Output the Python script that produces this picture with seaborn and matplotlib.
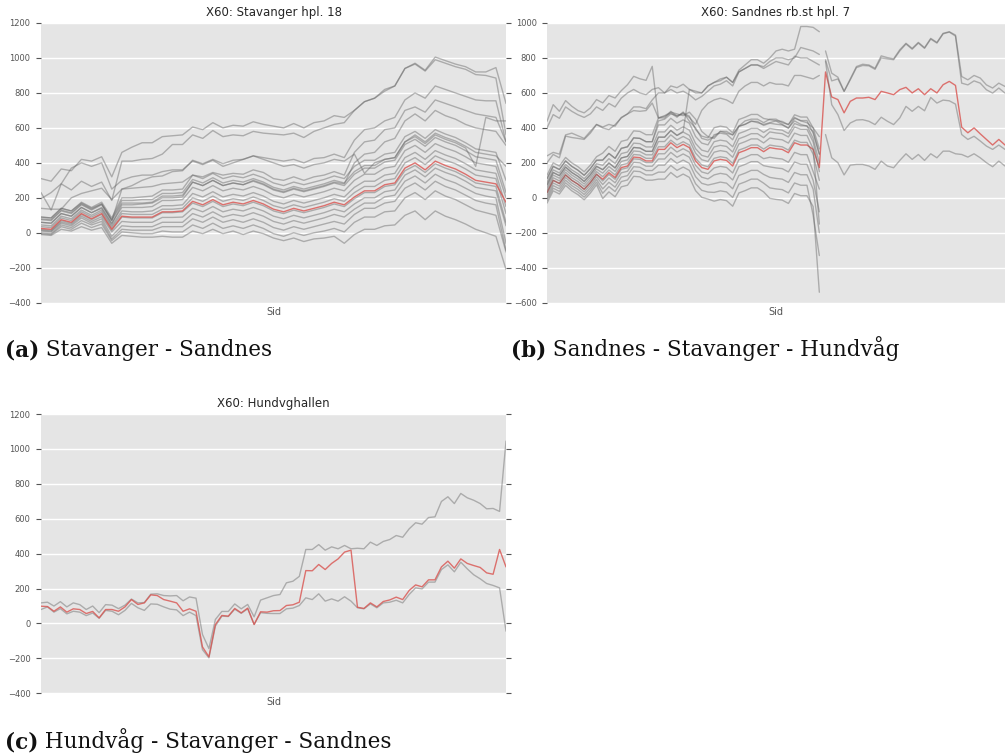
import matplotlib
matplotlib.use('Agg')
import matplotlib.pyplot as plt
import seaborn as sns

# ---------- (a) X60: Stavanger hpl. 18  (47 stops) ----------
a_red = [25, 20, 75, 60, 110, 80, 110, 20, 95, 90, 90, 90, 120, 120, 125,
         180, 160, 190, 160, 175, 165, 185, 165, 135, 120, 140, 125, 140, 155, 175, 160,
         205, 240, 240, 275, 285, 370, 400, 360, 410, 385, 365, 335, 300, 290, 280, 175]
a_run01 = [-10, -15, 20, 10, 35, 15, 30, -60, -15, -20, -25, -25, -20, -25, -25,
           10, -5, 20, -5, 10, -10, 10, -5, -30, -45, -30, -50, -35, -30, -20, -60,
           -10, 20, 20, 40, 45, 100, 125, 75, 125, 95, 75, 50, 20, 0, -20, -210]
a_run02 = [-5, -10, 35, 20, 55, 30, 50, -45, 5, 0, -5, -5, 10, 5, 5,
           45, 25, 55, 25, 40, 25, 45, 25, -5, -20, 0, -15, 0, 10, 25, 5,
           60, 90, 90, 120, 125, 200, 230, 190, 240, 210, 190, 160, 130, 115, 100, -110]
a_run03 = [0, -5, 45, 30, 70, 45, 65, -35, 20, 15, 15, 15, 35, 35, 35,
           80, 60, 90, 60, 75, 60, 80, 60, 30, 15, 35, 20, 35, 50, 65, 50,
           105, 140, 140, 170, 180, 255, 285, 245, 295, 265, 245, 215, 185, 170, 160, -100]
a_run04 = [10, 5, 55, 40, 85, 55, 80, -20, 40, 35, 35, 35, 60, 60, 60,
           110, 90, 120, 90, 105, 95, 115, 95, 65, 50, 70, 55, 70, 85, 105, 90,
           135, 170, 170, 205, 215, 295, 325, 285, 335, 305, 285, 255, 225, 210, 200, -60]
a_run05 = [15, 10, 62, 48, 95, 65, 92, 5, 65, 60, 60, 60, 88, 88, 90,
           140, 120, 150, 120, 135, 125, 145, 125, 95, 80, 100, 85, 100, 115, 135, 120,
           165, 200, 200, 235, 245, 330, 360, 320, 370, 345, 325, 295, 260, 250, 240, 40]
a_run06 = [35, 30, 85, 70, 120, 90, 120, 30, 110, 105, 105, 105, 135, 135, 140,
           200, 180, 210, 180, 195, 185, 205, 185, 155, 140, 160, 145, 160, 175, 195, 180,
           230, 265, 265, 300, 310, 400, 430, 390, 440, 415, 395, 365, 330, 320, 310, 110]
a_run07 = [45, 40, 95, 80, 130, 100, 130, 40, 125, 120, 120, 125, 155, 155, 160,
           225, 205, 235, 205, 220, 210, 230, 210, 180, 165, 185, 170, 185, 200, 220, 205,
           260, 295, 295, 330, 340, 430, 460, 420, 470, 445, 425, 395, 360, 350, 340, 150]
a_run08 = [60, 55, 110, 95, 145, 115, 145, 55, 145, 145, 145, 150, 185, 185, 190,
           260, 240, 270, 240, 255, 245, 265, 245, 215, 200, 220, 205, 220, 235, 255, 240,
           300, 335, 335, 370, 380, 470, 500, 460, 510, 485, 465, 435, 400, 390, 380, 200]
a_run09 = [75, 70, 125, 110, 160, 130, 160, 70, 170, 170, 170, 175, 210, 210, 215,
           290, 270, 300, 270, 285, 275, 295, 275, 245, 230, 250, 235, 250, 265, 285, 270,
           335, 370, 370, 405, 415, 505, 535, 495, 545, 520, 500, 470, 435, 425, 415, 230]
a_run10 = [90, 85, 140, 125, 175, 145, 175, 85, 200, 200, 205, 210, 245, 245, 250,
           330, 310, 340, 310, 325, 315, 335, 315, 285, 270, 290, 275, 290, 305, 325, 310,
           380, 415, 415, 450, 460, 550, 580, 540, 590, 565, 545, 515, 480, 470, 460, 300]
a_run11 = [80, 75, 130, 115, 165, 135, 165, 75, 185, 185, 190, 190, 225, 225, 230,
           305, 285, 315, 285, 300, 290, 310, 290, 260, 245, 265, 250, 265, 280, 300, 285,
           350, 385, 385, 420, 430, 520, 550, 510, 560, 535, 515, 485, 380, 660, 640, 640]
a_run12 = [20, 15, 70, 55, 105, 75, 105, 15, 90, 85, 85, 85, 115, 115, 120,
           170, 150, 180, 150, 165, 155, 175, 155, 125, 110, 130, 115, 130, 145, 165, 150,
           195, 230, 230, 265, 275, 355, 385, 345, 395, 370, 350, 320, 285, 275, 265, 60]
a_run13 = [310, 295, 365, 355, 420, 410, 435, 320, 460, 490, 515, 515, 550, 555, 560,
           605, 590, 630, 600, 615, 610, 635, 620, 610, 600, 625, 600, 630, 640, 670, 660,
           700, 750, 770, 820, 840, 940, 970, 930, 1005, 985, 965, 950, 920, 920, 945, 740]
a_run14 = [195, 230, 280, 245, 295, 265, 290, 185, 410, 410, 420, 425, 450, 505, 505,
           560, 540, 585, 550, 560, 555, 580, 570, 565, 560, 570, 545, 580, 600, 620, 630,
           700, 750, 770, 810, 840, 940, 965, 925, 990, 970, 950, 935, 905, 900, 885, 560]
a_run15 = [140, 135, 135, 200, 225, 240, 255, 190, 250, 270, 300, 320, 325, 350, 355,
           415, 395, 420, 395, 415, 420, 440, 430, 420, 410, 420, 400, 425, 430, 450, 430,
           530, 590, 600, 640, 660, 760, 800, 770, 840, 820, 800, 780, 760, 755, 755, 520]
a_run16 = [90, 85, 140, 125, 170, 140, 165, 70, 250, 255, 260, 265, 280, 285, 290,
           330, 320, 345, 330, 340, 335, 360, 345, 310, 300, 320, 300, 320, 330, 350, 330,
           460, 520, 530, 590, 600, 700, 720, 690, 760, 740, 720, 700, 680, 670, 660, 520]
a_run17 = [60, 55, 110, 95, 145, 115, 140, 50, 160, 160, 165, 170, 200, 200, 205,
           290, 270, 300, 270, 285, 275, 300, 280, 250, 235, 255, 240, 255, 270, 290, 280,
           400, 450, 460, 520, 540, 640, 680, 640, 700, 670, 650, 620, 600, 590, 580, 500]
a_run18 = [230, 130, 280, 370, 400, 380, 400, 250, 300, 320, 330, 330, 350, 360, 360,
           410, 390, 415, 380, 400, 420, 440, 420, 400, 380, 390, 370, 390, 400, 420, 410,
           450, 340, 400, 420, 430, 520, 560, 520, 570, 545, 525, 495, 460, 450, 440, 380]
a_runs = [a_run01, a_run02, a_run03, a_run04, a_run05, a_run06, a_run07, a_run08, a_run09,
          a_run10, a_run11, a_run12, a_run13, a_run14, a_run15, a_run16, a_run17, a_run18]

# ---------- (b) X60: Sandnes rb.st hpl. 7  (75 stops; runs split at stop 45) ----------
b_red = [30, 100, 82, 131, 100, 78, 49, 87, 135, 106, 144, 116, 173, 182, 233,
         230, 211, 211, 277, 277, 315, 287, 306, 287, 211, 173, 163, 211, 220, 214,
         182, 258, 271, 287, 287, 264, 287, 281, 277, 258, 315, 302, 302, 277, 173,
         720, 577, 562, 486, 552, 571, 571, 575, 562, 609, 600, 590, 619, 632, 600,
         624, 590, 624, 600, 647, 666, 643, 404, 372, 400, 366, 334, 302, 334, 302]
b_run01 = [-30, 40, 22, 71, 40, 18, -11, 27, 75, -4, 34, 6, 63, 72, 123, 120, 101, 101,
           107, 107, 145, 117, 136, 117, 41, 3, -7, -19, -10, -16, -48, 28, 41, 57, 57, 34,
           -3, -9, -13, -32, 25, 12, 12, -50, -540]
b_run02 = [-15, 55, 37, 86, 55, 33, 4, 42, 90, 26, 64, 36, 93, 102, 153, 150, 131, 131,
           147, 147, 185, 157, 176, 157, 81, 43, 33, 31, 40, 34, 2, 78, 91, 107, 107, 84,
           57, 51, 47, 28, 85, 72, 72, -100, -330]
b_run03 = [0, 70, 52, 101, 70, 48, 19, 57, 105, 51, 89, 61, 118, 127, 178, 175, 156, 156,
           187, 187, 225, 197, 216, 197, 121, 83, 73, 81, 90, 84, 52, 128, 141, 157, 157, 134,
           117, 111, 107, 88, 145, 132, 132, 50, -200]
b_run04 = [15, 85, 67, 116, 85, 63, 34, 72, 120, 76, 114, 86, 143, 152, 203, 200, 181, 181,
           222, 222, 260, 232, 251, 232, 156, 118, 108, 131, 140, 134, 102, 178, 191, 207, 207, 184,
           177, 171, 167, 148, 205, 192, 192, 100, -80]
b_run05 = [30, 100, 82, 131, 100, 78, 49, 87, 135, 96, 134, 106, 163, 172, 223, 220, 201, 201,
           252, 252, 290, 262, 281, 262, 186, 148, 138, 171, 180, 174, 142, 218, 231, 247, 247, 224,
           232, 226, 222, 203, 260, 247, 247, 150, 50]
b_run06 = [45, 115, 97, 146, 115, 93, 64, 102, 150, 121, 159, 131, 188, 197, 248, 245, 226, 226,
           292, 292, 330, 302, 321, 302, 226, 188, 178, 226, 235, 229, 197, 273, 286, 302, 302, 279,
           302, 296, 292, 273, 330, 317, 317, 250, 100]
b_run07 = [60, 130, 112, 161, 130, 108, 79, 117, 165, 141, 179, 151, 208, 217, 268, 265, 246, 246,
           322, 322, 360, 332, 351, 332, 256, 218, 208, 261, 270, 264, 232, 308, 321, 337, 337, 314,
           342, 336, 332, 313, 370, 357, 357, 280, -150]
b_run08 = [75, 145, 127, 176, 145, 123, 94, 132, 180, 161, 199, 171, 228, 237, 288, 285, 266, 266,
           347, 347, 385, 357, 376, 357, 281, 243, 233, 291, 300, 294, 262, 338, 351, 367, 367, 344,
           377, 371, 367, 348, 405, 392, 392, 320, 150]
b_run09 = [90, 160, 142, 191, 160, 138, 109, 147, 195, 186, 224, 196, 253, 262, 313, 310, 291, 291,
           377, 377, 415, 387, 406, 387, 311, 273, 263, 321, 330, 324, 292, 368, 381, 397, 397, 374,
           397, 391, 387, 368, 425, 412, 412, 340, 200]
b_run10 = [110, 180, 162, 211, 180, 158, 129, 167, 215, 216, 254, 226, 283, 292, 343, 340, 321, 321,
           417, 417, 455, 427, 446, 427, 351, 313, 303, 361, 370, 364, 332, 408, 421, 437, 437, 414,
           427, 421, 417, 398, 455, 442, 442, 370, 250]
b_run11 = [130, 200, 182, 231, 200, 178, 149, 187, 235, 256, 294, 266, 323, 332, 383, 380, 361, 361,
           457, 457, 495, 467, 486, 467, 391, 353, 343, 401, 410, 404, 372, 448, 461, 477, 477, 454,
           447, 441, 437, 418, 475, 462, 462, 400, 280]
b_run12 = [438, 533, 495, 556, 524, 499, 486, 514, 562, 543, 585, 571, 613, 647, 695,
           681, 672, 752, 457, 470, 490, 480, 470, 490, 450, 380, 350, 340, 380, 370,
           360, 410, 420, 440, 430, 420, 430, 440, 420, 400, 440, 420, 410, 380, 250]
b_run13 = [400, 476, 455, 520, 495, 475, 460, 480, 520, 500, 540, 520, 570, 600, 620,
           600, 590, 620, 630, 600, 640, 630, 650, 620, 600, 600, 640, 660, 680, 690,
           660, 730, 760, 790, 790, 770, 800, 840, 850, 840, 850, 980, 980, 975, 950]
b_run14 = [201, 248, 229, 353, 345, 340, 334, 370, 419, 400, 390, 419, 457, 480, 499,
           495, 499, 542, 457, 466, 485, 461, 491, 438, 400, 340, 330, 350, 380, 380,
           360, 410, 440, 450, 450, 430, 450, 450, 430, 420, 460, 440, 430, 400, 350]
b_run15 = [75, 145, 127, 176, 145, 123, 94, 132, 180, 161, 199, 171, 228, 237, 288, 285, 266, 266,
           347, 347, 385, 357, 380, 620, 610, 600, 640, 660, 670, 690, 660, 720, 740, 760, 760,
           740, 760, 780, 770, 760, 810, 800, 800, 780, 760]
b_run16 = [110, 180, 162, 211, 180, 158, 129, 167, 215, 216, 254, 226, 283, 292, 343, 340, 321, 321,
           440, 450, 480, 470, 480, 460, 420, 500, 540, 560, 570, 560, 540, 610, 640, 660, 660,
           640, 660, 650, 650, 640, 700, 700, 690, 680, 700]
b_run17 = [240, 260, 250, 360, 370, 355, 340, 380, 420, 405, 420, 410, 460, 480, 520,
           520, 510, 560, 600, 600, 620, 600, 610, 590, 560, 580, 610, 640, 650, 670,
           640, 720, 740, 760, 760, 750, 780, 800, 800, 790, 800, 860, 850, 840, 820]
b_runs_left = [b_run01, b_run02, b_run03, b_run04, b_run05, b_run06, b_run07, b_run08,
               b_run09, b_run10, b_run11, b_run12, b_run13, b_run14, b_run15, b_run16, b_run17]

b_late1 = [840, 713, 690, 609, 680, 751, 764, 760, 741, 812, 802, 795, 847, 884, 855,
           889, 859, 912, 889, 941, 950, 931, 694, 675, 700, 685, 646, 628, 656, 637]
b_late2 = [789, 669, 680, 609, 675, 745, 757, 755, 735, 800, 795, 790, 840, 880, 850,
           885, 855, 908, 885, 938, 948, 925, 656, 646, 669, 656, 618, 599, 628, 599]
b_late3 = [780, 533, 476, 385, 428, 445, 447, 438, 419, 461, 438, 419, 457, 523, 495,
           523, 498, 574, 542, 559, 555, 536, 362, 334, 352, 325, 296, 277, 302, 277]
b_late4 = [362, 229, 201, 131, 187, 191, 191, 182, 163, 210, 182, 172, 214, 252, 220,
           248, 214, 252, 229, 267, 267, 252, 248, 233, 252, 229, 201, 178, 210, 182]
b_runs_right = [b_late1, b_late2, b_late3, b_late4]

# ---------- (c) X60: Hundvghallen  (73 stops) ----------
c_red = [99, 97, 70, 95, 65, 84, 80, 57, 69, 32, 80, 80, 70, 95, 137, 109, 118, 164, 160, 137,
         128, 118, 70, 84, 70, -134, -191, -6, 46, 42, 86, 61, 88, -6, 67, 65, 73,
         74, 103, 107, 122, 303, 302, 338, 309, 344, 370, 409, 420, 93, 86, 118, 95, 126, 135,
         151, 137, 189, 221, 210, 250, 250, 324, 357, 317, 370, 344, 332, 321, 290, 282, 424, 324]
c_upper = [118, 122, 100, 125, 95, 118, 108, 80, 100, 62, 108, 105, 85, 105, 140, 118, 120, 168,
           170, 160, 158, 160, 130, 152, 145, -63, -144, 23, 69, 69, 112, 84, 109, 38, 134, 147,
           160, 166, 233, 242, 270, 424, 424, 452, 420, 439, 428, 447, 428, 431, 428, 466, 447, 470,
           481, 504, 494, 542, 577, 569, 607, 611, 699, 726, 687, 745, 720, 706, 687, 657, 659, 642, 1045]
c_lower = [80, 95, 65, 85, 55, 70, 65, 45, 60, 30, 75, 70, 50, 75, 115, 90, 75, 112, 110, 95,
           82, 78, 45, 65, 45, -150, -197, -15, 42, 40, 82, 58, 84, -5, 62, 58, 57,
           57, 84, 88, 103, 147, 137, 170, 128, 141, 128, 153, 128, 90, 84, 112, 90, 118, 122,
           133, 118, 166, 204, 198, 237, 237, 309, 336, 296, 351, 313, 279, 256, 229, 218, 204, -44]

GRAY = '#666666'
RED = '#d9534f'
TXT = '#555555'

sns.set_theme(style='darkgrid', rc={'axes.facecolor': '#E5E5E5', 'grid.color': 'white',
                                    'grid.linewidth': 1.0, 'axes.edgecolor': '#E5E5E5'})
plt.rcParams['font.family'] = ['DejaVu Sans']


def run(ax, xs, ys, color=GRAY, alpha=0.45):
    sns.lineplot(x=xs, y=ys, ax=ax, color=color, alpha=alpha, lw=1.0,
                 estimator=None, sort=False, legend=False)


def style(ax, title, lo, hi, n):
    ax.set_xlim(0, n - 1)
    ax.set_ylim(lo, hi)
    ax.set_yticks(range(lo, hi + 1, 200))
    ax.set_xticks([])
    ax.grid(axis='x', visible=False)
    ax.tick_params(axis='y', left=True, right=True, direction='out', length=3.5, width=0.8,
                   colors=TXT, labelsize=6, pad=4)
    ax.set_title(title, fontsize=8.5, pad=5)
    ax.set_xlabel('Sid', fontsize=7, color=TXT, labelpad=3)
    ax.set_ylabel('')
    for s in ax.spines.values():
        s.set_visible(False)


fig = plt.figure(figsize=(10.05, 7.54), dpi=100)
ax_a = fig.add_axes([0.0408, 0.5985, 0.4627, 0.371])
ax_b = fig.add_axes([0.5443, 0.5985, 0.4557, 0.371])
ax_c = fig.add_axes([0.0408, 0.0805, 0.4627, 0.3704])

# (a)
xa = list(range(len(a_red)))
for r in a_runs:
    run(ax_a, xa, r)
run(ax_a, xa, a_red, RED, 0.8)
style(ax_a, 'X60: Stavanger hpl. 18', -400, 1200, len(a_red))

# (b)
xb = list(range(len(b_red)))
run(ax_b, xb, b_red, RED, 0.8)
for r in b_runs_left:
    run(ax_b, xb[:len(r)], r)
for r in b_runs_right:
    run(ax_b, xb[-len(r):], r)
style(ax_b, 'X60: Sandnes rb.st hpl. 7', -600, 1000, len(b_red))

# (c)
xc = list(range(len(c_red)))
run(ax_c, xc, c_upper)
run(ax_c, xc, c_lower)
run(ax_c, xc, c_red, RED, 0.8)
style(ax_c, 'X60: Hundvghallen', -400, 1200, len(c_red))

# sub-captions: bold tag followed by regular text
captions = [(0.005, 1 - 356 / 754, '(a)', ' Stavanger - Sandnes'),
            (0.5085, 1 - 356 / 754, '(b)', ' Sandnes - Stavanger - Hundvåg'),
            (0.005, 1 - 748 / 754, '(c)', ' Hundvåg - Stavanger - Sandnes')]
for x, y, tag, text in captions:
    t = fig.text(x, y, tag, fontsize=15.5, fontweight='bold', family='DejaVu Serif',
                 va='baseline', color='#111111')
    ax_a.annotate(text, xy=(1, 0), xycoords=t, va='bottom', fontsize=15.5,
                  family='DejaVu Serif', color='#111111', annotation_clip=False)

fig.savefig('out.png', dpi=100)
